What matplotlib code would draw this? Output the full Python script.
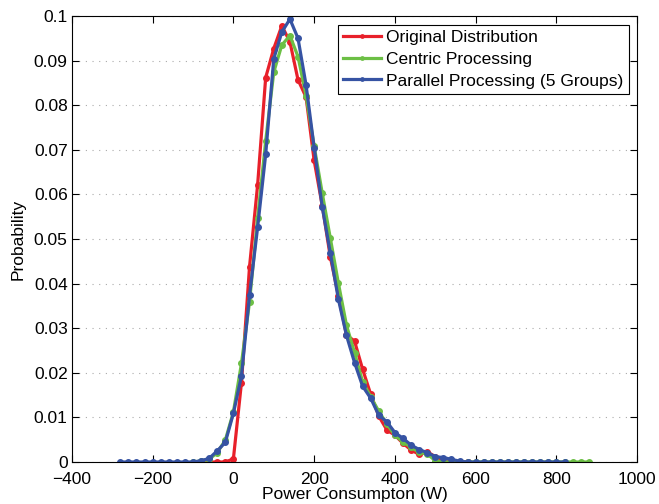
import numpy as np
import matplotlib
matplotlib.use("Agg")
import matplotlib.pyplot as plt

plt.rcParams['font.family'] = ['Liberation Sans', 'DejaVu Sans']

# Original distribution (x from -80 to 580 step 20)
x_orig = list(range(-80, 600, 20))
y_orig = [0.0, 0.0, 0.0, 0.0, 0.0007, 0.0178, 0.0438, 0.0621, 0.0862, 0.0927,
          0.0978, 0.0942, 0.0857, 0.0818, 0.0676, 0.0575, 0.0460, 0.0373, 0.0285,
          0.0271, 0.0208, 0.0152, 0.0103, 0.0072, 0.0060, 0.0042, 0.0027, 0.0017,
          0.0023, 0.0012, 0.0004, 0.0, 0.0, 0.0]

# Centric processing (x from -100 to 880 step 20)
x_cent = list(range(-100, 900, 20))
y_cent = [0.0, 0.0002, 0.0006, 0.0021, 0.0049, 0.0112, 0.0221, 0.0359, 0.0546,
          0.0720, 0.0874, 0.0935, 0.0956, 0.0909, 0.0821, 0.0708, 0.0603, 0.0502,
          0.0401, 0.0307, 0.0245, 0.0180, 0.0146, 0.0114, 0.0085, 0.0060, 0.0045,
          0.0033, 0.0022, 0.0018, 0.0003, 0.0, 0.0, 0.0, 0.0, 0.0, 0.0, 0.0, 0.0,
          0.0, 0.0, 0.0, 0.0, 0.0, 0.0, 0.0, 0.0, 0.0, 0.0, 0.0]

# Parallel processing (x from -280 to 820 step 20)
x_par = list(range(-280, 840, 20))
y_par = [0.0, 0.0, 0.0, 0.0, 0.0, 0.0, 0.0, 0.0, 0.0, 0.0, 0.0003, 0.0008,
         0.0025, 0.0044, 0.0109, 0.0193, 0.0374, 0.0526, 0.0690, 0.0904, 0.0964,
         0.0993, 0.0950, 0.0845, 0.0705, 0.0572, 0.0469, 0.0365, 0.0284, 0.0223,
         0.0170, 0.0143, 0.0105, 0.0090, 0.0066, 0.0053, 0.0038, 0.0028, 0.0021,
         0.0012, 0.0010, 0.0006, 0.0002, 0.0, 0.0, 0.0, 0.0, 0.0, 0.0, 0.0, 0.0,
         0.0, 0.0, 0.0, 0.0, 0.0]

labels = ["Original Distribution", "Centric Processing", "Parallel Processing (5 Groups)"]
colors = ["#e8202a", "#6cbf45", "#3653a3"]

x_ticks = list(range(-400, 1001, 200))
y_ticks = [round(0.01 * i, 2) for i in range(11)]

fs = 12.5
fig = plt.figure(figsize=(6.59, 5.04), dpi=100)
ax = fig.add_axes([0.109, 0.0833, 0.858, 0.885])

for xs, ys, lab, c in zip([x_orig, x_cent, x_par], [y_orig, y_cent, y_par], labels, colors):
    ax.plot(xs, ys, '-o', color=c, lw=2.3, ms=4, label=lab)

ax.set_xlim(-400, 1000)
ax.set_ylim(0, 0.1)
ax.set_xticks(x_ticks)
ax.set_yticks(y_ticks)
ax.set_xticklabels([f"{t}".replace('-', '\u2212') for t in x_ticks])
ax.set_yticklabels(["0" if t == 0 else f"{t:g}" for t in y_ticks])
ax.yaxis.grid(True, linestyle=(0, (1, 5)), color='#aaaaaa', lw=0.8)
ax.tick_params(direction='in', top=True, right=True, labelsize=fs, length=5)
ax.tick_params(axis='x', pad=7)
ax.tick_params(axis='y', pad=3)
for s in ax.spines.values():
    s.set_linewidth(0.8)
ax.set_xlabel("Power Consumpton (W)", fontsize=fs, labelpad=0)
ax.set_ylabel("Probability", fontsize=fs, labelpad=6)

leg = ax.legend(loc='upper right', fontsize=fs, fancybox=False, framealpha=1,
                edgecolor='black', borderaxespad=0.5, handlelength=2.2,
                handletextpad=0.3, labelspacing=0.38, borderpad=0.3, markerscale=0.6)
leg.get_frame().set_linewidth(0.8)

fig.savefig("out.png", dpi=100)
